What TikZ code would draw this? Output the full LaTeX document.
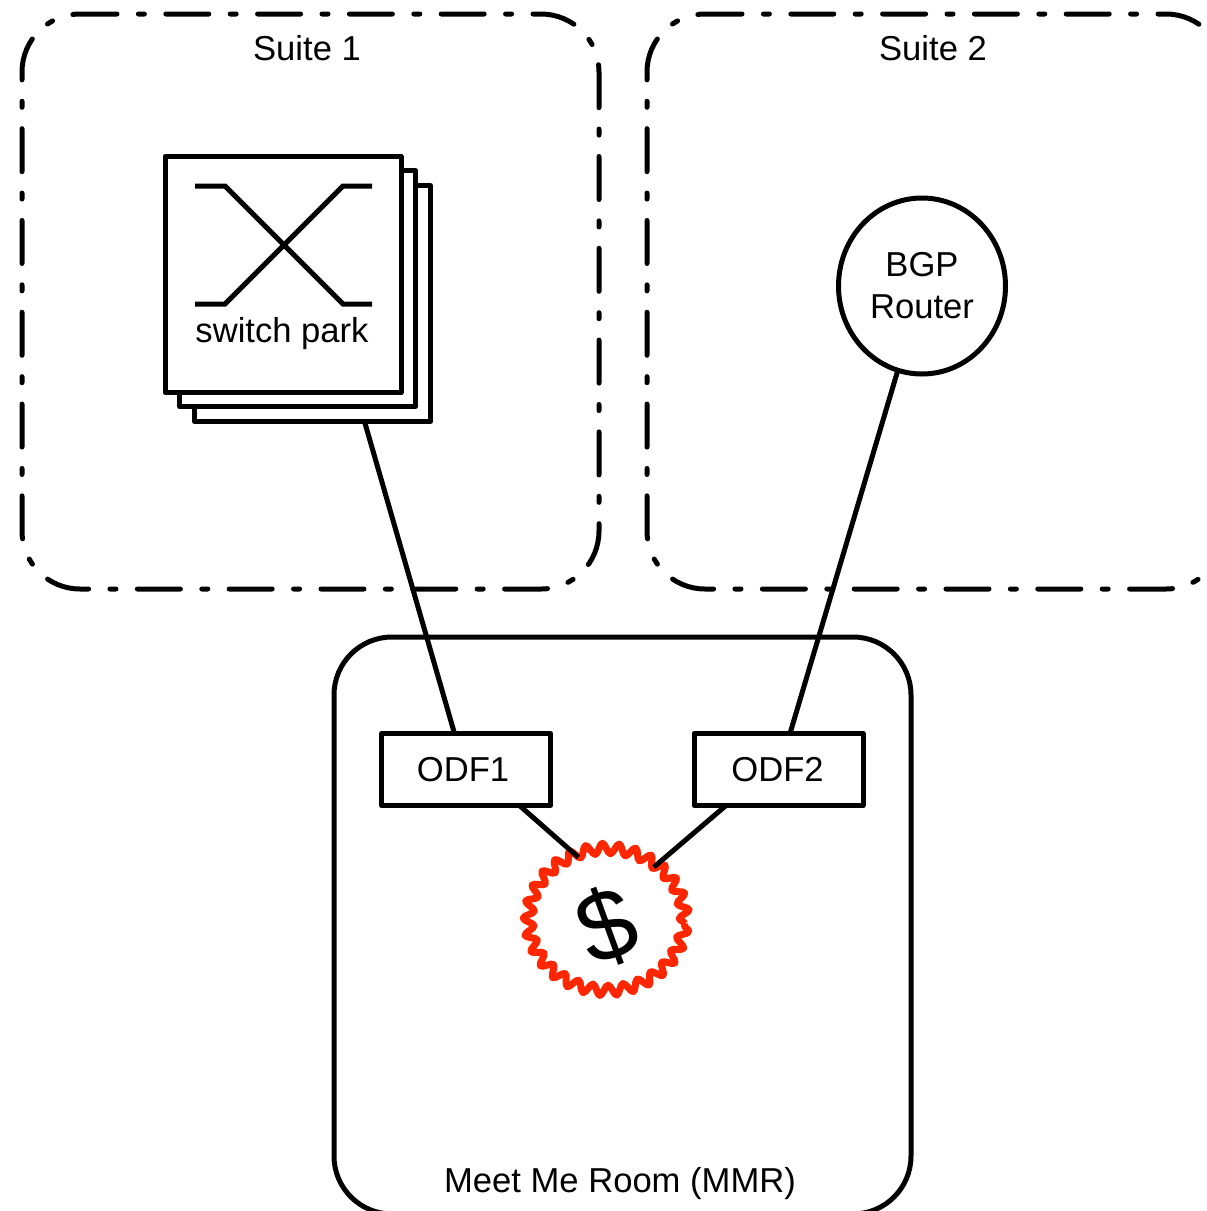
\documentclass[tikz,border=0pt]{standalone}
\usepackage{fontspec}
\setmainfont{Liberation Sans}
\usetikzlibrary{calc,decorations.pathmorphing,shapes.geometric}
\definecolor{moneyred}{HTML}{FF2600}
\tikzset{
  heavy/.style={line width=2.5pt},
  tag/.style={inner sep=0pt,font=\fontsize{17.3}{21}\selectfont},
  suite/.style={heavy,line cap=round,rounded corners=29pt,dash pattern=on 21.5pt off 10.7pt on 3pt off 10.7pt,dash phase=3pt},
  sheet/.style={draw,heavy,fill=white,line join=round,inner sep=0pt,outer sep=0pt,minimum size=118pt},
  odfbox/.style={draw,heavy,tag,line join=round,outer sep=0pt,minimum width=84.5pt,minimum height=36pt},
}
\begin{document}
\begin{tikzpicture}[x=0.5pt,y=-0.5pt]
  \useasboundingbox (0,0) rectangle (1206,1211);
  % suites
  \draw [suite] (80,14) -- (599,14) -- (599,589) -- (22,589) -- (22,14) -- (80,14);
  \draw [suite] (705,14) -- (1224,14) -- (1224,589) -- (647,589) -- (647,14) -- (705,14);
  \node [tag] (suite1) at (307,48) {Suite 1};
  \node [tag] (suite2) at (933,48) {Suite 2};
  % meet me room
  \node [draw,heavy,rounded corners=29pt,outer sep=0pt,minimum width=288.5pt,minimum height=288.5pt] (mmr) at (622.5,925.5) {};
  \node [tag] (mmrlabel) at (620,1184) {Meet Me Room (MMR)};
  % switch park
  \node [sheet] (sheet3) at (312.5,303.5) {};
  \node [sheet] (sheet2) at (297.5,288.5) {};
  \node [sheet] (sheet1) at (283,274.5) {};
  \draw [heavy] (195,186) -- (225,186) -- (343,304) -- (372,304);
  \draw [heavy] (195,304) -- (225,304) -- (343,186) -- (372,186);
  \node [tag] (parklabel) at (282,334) {switch park};
  % router
  \node [draw,heavy,ellipse,inner sep=0pt,outer sep=0pt,minimum width=83.5pt,minimum height=88pt,tag,align=center] (router) at (922,286) {BGP\\Router};
  % odf
  \node [odfbox] (odf1) at (466,769.5) {ODF1\kern3pt};
  \node [odfbox] (odf2) at (778.5,769.5) {ODF2\kern1pt};
  \node [ellipse,draw=moneyred,line width=3.5pt,line join=round,inner sep=0pt,outer sep=0pt,minimum width=78pt,minimum height=71pt,
    decorate,decoration={snake,segment length=8pt,amplitude=2.6pt}] (money) at (606.5,923.5) {};
  \node [inner sep=0pt,rotate=20,font=\fontsize{50}{54}\selectfont] (dollar) at (607,926) {\$};
  % cables
  \draw [heavy] ($(sheet3.south west)+(170,0)$) -- ($(odf1.north west)+(73,0)$);
  \draw [heavy] (router.254) -- ($(odf2.north west)+(96,0)$);
  \draw [heavy] ($(odf1.south west)+(138,0)$) -- (money.113);
  \draw [heavy] ($(odf2.south west)+(32,0)$) -- (money.50);
\end{tikzpicture}
\end{document}
